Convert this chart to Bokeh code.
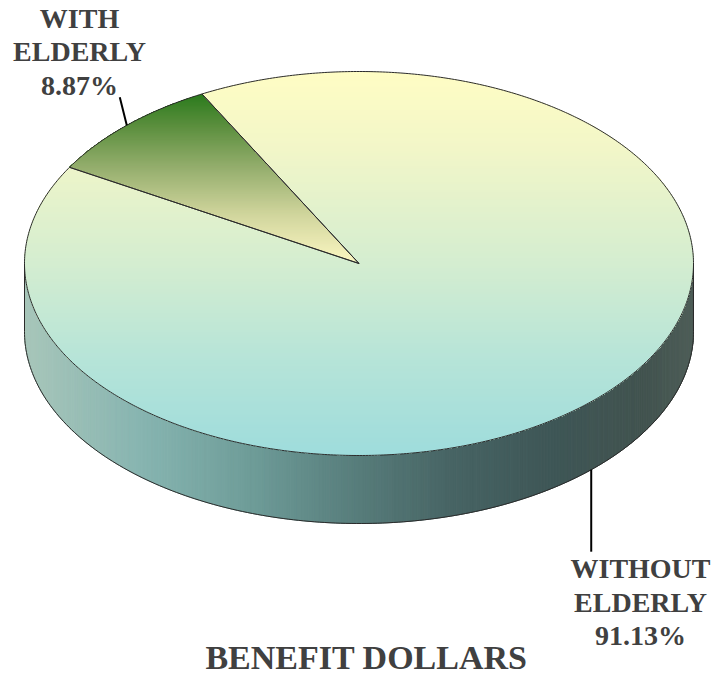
import numpy as np
from bokeh.plotting import figure
from bokeh.models import Range1d, ColumnDataSource
from bokeh.core.properties import value
from bokeh.embed import file_html
from bokeh.resources import INLINE

# ---------------- data ----------------
categories = ["WITH ELDERLY", "WITHOUT ELDERLY"]
values = [8.87, 91.13]
label_lines = [["WITH", "ELDERLY", "8.87%"], ["WITHOUT", "ELDERLY", "91.13%"]]
title_text = "BENEFIT DOLLARS"

# ---------------- layout / style ----------------
W, H = 715, 676
CX, CY, RX, RY, DEPTH = 358.5, 263.0, 334.5, 192.0, 68.0
START = 118.0  # first slice start angle, degrees counter-clockwise
FONT = "Liberation Serif"
TXT = "#404040"
EDGE = "#2b2b2b"

top_stops = [
    [(0.0, "#2A7A1C"), (0.2, "#5E9040"), (0.45, "#98B070"), (0.72, "#D2D69E"), (1.0, "#FBF7C2")],
    [(0.0, "#FFFDC4"), (0.2, "#F2F6C8"), (0.5, "#D4EDD0"), (0.75, "#B6E4D8"), (1.0, "#9EDCDC")],
]
side_stops = [
    [(0.0, "#2A7A1C"), (1.0, "#1E5414")],
    [(0.0, "#A8C6BA"), (0.18, "#86B4B0"), (0.34, "#6E9C98"), (0.49, "#587E7C"),
     (0.64, "#476464"), (0.79, "#3E5656"), (0.93, "#42534F"), (1.0, "#4E5E58")],
]
label_pos = [(79.0, 17.5), (640.0, 568.0)]  # centre x, first baseline y
LINE_SP = 33.5
TITLE_POS = (366.0, 657.0)


def hex2rgb(h):
    h = h.lstrip("#")
    return np.array([int(h[i:i + 2], 16) for i in (0, 2, 4)], dtype=float)


def interp(stops, t):
    t = min(max(t, 0.0), 1.0)
    for (t0, c0), (t1, c1) in zip(stops[:-1], stops[1:]):
        if t <= t1:
            f = 0 if t1 == t0 else (t - t0) / (t1 - t0)
            c = hex2rgb(c0) * (1 - f) + hex2rgb(c1) * f
            return "#%02x%02x%02x" % tuple(int(round(v)) for v in c)
    return stops[-1][1]


def ell(a):
    r = np.radians(a)
    return CX + RX * np.cos(r), CY - RY * np.sin(r)


def clip(poly, y0, y1):
    def half(pts, inside, yc):
        out = []
        n = len(pts)
        for i in range(n):
            P, Q = pts[i], pts[(i + 1) % n]
            pi, qi = inside(P[1]), inside(Q[1])
            if pi:
                out.append(P)
            if pi != qi:
                t = (yc - P[1]) / (Q[1] - P[1])
                out.append((P[0] + t * (Q[0] - P[0]), yc))
        return out
    pts = half(poly, lambda y: y >= y0, y0)
    if len(pts) < 3:
        return []
    pts = half(pts, lambda y: y <= y1, y1)
    return pts if len(pts) >= 3 else []


total = float(sum(values))
angles = []
a = START
for v in values:
    b = a + 360.0 * v / total
    angles.append((a, b))
    a = b

p = figure(width=W, height=H, x_range=Range1d(0, W), y_range=Range1d(H, 0),
           output_backend="svg", toolbar_location=None, min_border=0)
p.axis.visible = False
p.grid.visible = False
p.outline_line_color = None
p.background_fill_color = "white"
p.border_fill_color = "white"

# ---- side walls (front half, 180..360 deg), horizontal gradient ----
for i, (a0, a1) in enumerate(angles):
    for off in (0.0, 360.0, -360.0):
        s0, s1 = max(a0 + off, 180.0), min(a1 + off, 360.0)
        if s1 <= s0:
            continue
        n = max(2, int((s1 - s0) * 1.6))
        ts = np.linspace(s0, s1, n + 1)
        xs, ys, cs = [], [], []
        for t0, t1 in zip(ts[:-1], ts[1:]):
            x0, y0 = ell(t0)
            x1, y1 = ell(t1)
            xs.append([x0, x1, x1, x0])
            ys.append([y0, y1, y1 + DEPTH, y0 + DEPTH])
            cs.append(interp(side_stops[i], ((x0 + x1) / 2 - (CX - RX)) / (2 * RX)))
        src = ColumnDataSource(dict(xs=xs, ys=ys, c=cs))
        p.patches("xs", "ys", source=src, fill_color="c", line_color="c", line_width=1)

# ---- top faces with vertical gradient (stacked bands, no seams) ----
sector_polys = []
for i, (a0, a1) in enumerate(angles):
    ts = np.linspace(a0, a1, max(12, int(a1 - a0) * 2))
    poly = [(CX, CY)] + [ell(t) for t in ts]
    sector_polys.append(poly)
    ymin = min(q[1] for q in poly)
    ymax = max(q[1] for q in poly)
    nb = 150
    edges = np.linspace(ymin, ymax, nb + 1)
    xs, ys, cs = [], [], []
    for y0, y1 in zip(edges[:-1], edges[1:]):
        part = clip(poly, y0 - 0.01, ymax + 1.0)
        if not part:
            continue
        xs.append([q[0] for q in part])
        ys.append([q[1] for q in part])
        cs.append(interp(top_stops[i], ((y0 + y1) / 2 - ymin) / (ymax - ymin)))
    src = ColumnDataSource(dict(xs=xs, ys=ys, c=cs))
    p.patches("xs", "ys", source=src, fill_color="c", line_color=None)

# ---- outlines ----
for poly in sector_polys:
    px = [q[0] for q in poly] + [poly[0][0]]
    py = [q[1] for q in poly] + [poly[0][1]]
    p.line(px, py, line_color=EDGE, line_width=1)
bt = np.linspace(180, 360, 200)
bx, by = ell(bt)
p.line(bx, by + DEPTH, line_color=EDGE, line_width=1)
for t in (180.0, 360.0):
    ex, ey = ell(t)
    p.line([ex, ex], [ey, ey + DEPTH], line_color=EDGE, line_width=1)

# ---- leader lines ----
for i, (a0, a1) in enumerate(angles):
    mid = (a0 + a1) / 2.0
    mx, my = ell(mid)
    if np.sin(np.radians(mid)) >= 0:
        p.line([mx, mx - 7], [my, my - 28], line_color="black", line_width=2)
    else:
        p.line([mx, mx], [my + DEPTH, my + DEPTH + 82], line_color="black", line_width=2)

# ---- labels ----
for (lx, ly), lines in zip(label_pos, label_lines):
    p.text(x=[lx] * len(lines), y=[ly + k * LINE_SP for k in range(len(lines))], text=lines,
           text_font=value(FONT), text_font_style="bold", text_font_size="28px",
           text_align="center", text_baseline="alphabetic", text_color=TXT)

p.text(x=[TITLE_POS[0]], y=[TITLE_POS[1]], text=[title_text], text_font=value(FONT),
       text_font_style="bold", text_font_size="34px", text_align="center",
       text_baseline="alphabetic", text_color=TXT)

open("out.html", "w").write(file_html(p, INLINE))
